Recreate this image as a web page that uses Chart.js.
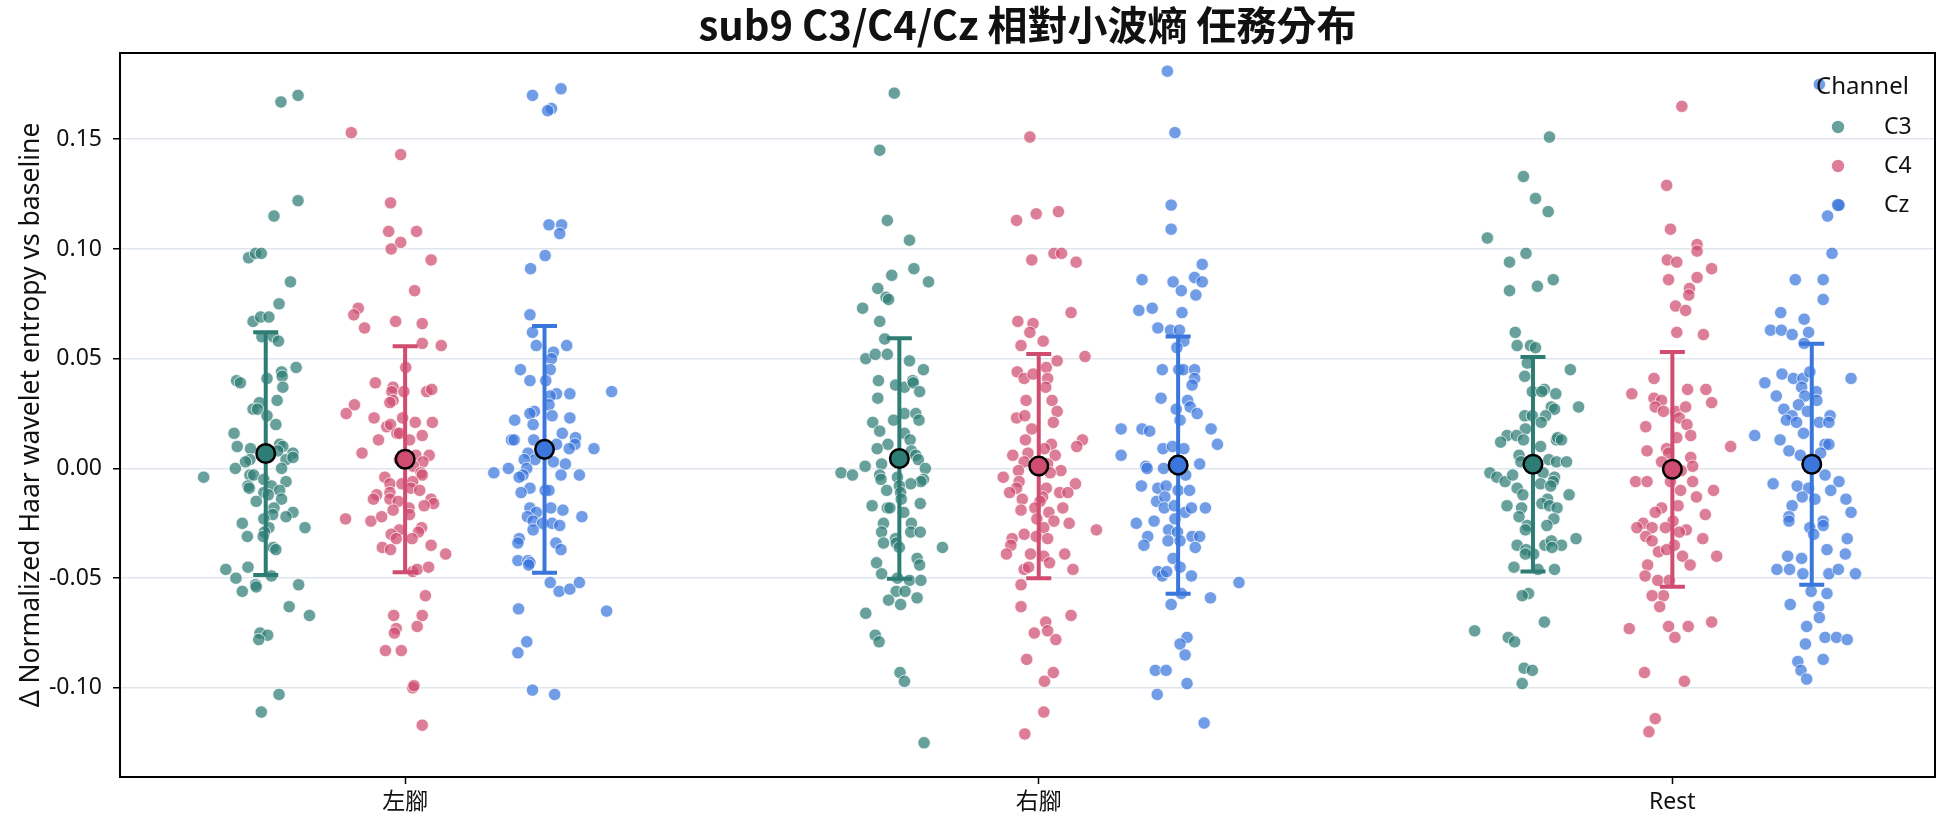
<!DOCTYPE html>
<html>
<head>
<meta charset="utf-8">
<script src="https://cdn.jsdelivr.net/npm/chart.js@4.4.1/dist/chart.umd.min.js"></script>
<style>
html,body{margin:0;padding:0;background:#ffffff;}
#wrap{width:1944px;height:827px;}
</style>
</head>
<body>
<div id="wrap"><canvas id="c" width="1944" height="827"></canvas></div>
<script>
// ---------- categories / channels ----------
const categories = ['左腳', '右腳', 'Rest'];
const channels = ['C3', 'C4', 'Cz'];
const yTicks = [-0.10, -0.05, 0.00, 0.05, 0.10, 0.15];

// ---------- C3 values ----------
const c3Left = [0.167,0.170,0.122,0.115,0.096,0.098,0.098,0.085,0.075,0.067,0.069,0.069,0.060,0.060,0.058,0.040,0.039,0.041,0.044,0.042,0.046,0.037,0.031,0.030,0.027,0.027,0.024,0.020,0.016,0.010,0.009,0.004,0.003,0.000,0.011,0.010,0.008,0.007,0.004,0.005,0.000,-0.004,-0.003,-0.003,-0.005,-0.006,-0.008,-0.008,-0.009,-0.010,-0.011,-0.015,-0.012,-0.014,-0.018,-0.020,-0.022,-0.021,-0.023,-0.025,-0.027,-0.027,-0.029,-0.031,-0.031,-0.036,-0.037,-0.046,-0.045,-0.050,-0.049,-0.053,-0.054,-0.056,-0.053,-0.063,-0.067,-0.075,-0.076,-0.078,-0.103,-0.111];
const c3LeftJitter = [0.024,0.051,0.051,0.013,-0.027,-0.016,-0.007,0.039,0.021,-0.020,-0.008,0.005,-0.006,0.012,0.020,-0.046,-0.040,0.002,0.025,0.026,0.048,0.027,0.018,-0.010,-0.020,-0.013,0.002,0.016,-0.050,-0.045,-0.024,-0.025,-0.032,-0.048,0.022,0.027,0.019,0.043,0.032,0.043,0.025,-0.098,-0.025,-0.019,-0.003,0.032,0.009,-0.028,-0.026,0.022,-0.003,-0.015,0.004,0.025,0.013,0.043,0.032,0.011,-0.003,-0.037,0.062,0.005,-0.002,-0.029,-0.004,0.012,0.016,-0.063,-0.028,-0.047,0.009,-0.016,-0.015,-0.037,0.052,0.037,0.069,-0.009,0.003,-0.011,0.021,-0.007];
const c3Right = [0.171,0.145,0.113,0.104,0.091,0.088,0.085,0.082,0.078,0.077,0.073,0.067,0.059,0.050,0.052,0.052,0.049,0.045,0.040,0.038,0.037,0.040,0.039,0.035,0.032,0.025,0.025,0.022,0.021,0.022,0.017,0.016,0.013,0.011,0.009,0.008,0.006,0.004,0.001,-0.002,-0.003,0.002,0.000,-0.003,-0.005,-0.004,-0.005,-0.006,-0.007,-0.008,-0.010,-0.011,-0.014,-0.017,-0.016,-0.018,-0.018,-0.020,-0.025,-0.025,-0.029,-0.029,-0.029,-0.032,-0.034,-0.034,-0.036,-0.036,-0.043,-0.041,-0.044,-0.048,-0.050,-0.051,-0.051,-0.056,-0.056,-0.060,-0.062,-0.059,-0.066,-0.076,-0.079,-0.093,-0.097,-0.125];
const c3RightJitter = [-0.008,-0.031,-0.019,0.016,0.023,-0.012,0.046,-0.034,-0.021,-0.017,-0.058,-0.031,-0.023,-0.053,-0.038,-0.019,0.016,0.038,-0.033,-0.006,0.008,0.021,0.022,0.032,-0.034,0.008,0.026,0.031,-0.042,-0.009,-0.031,0.008,0.017,-0.018,-0.035,0.019,0.026,0.030,-0.054,-0.092,-0.074,-0.028,0.041,-0.031,-0.029,-0.003,0.038,0.034,0.018,0.000,-0.020,0.002,0.003,-0.043,0.033,-0.019,-0.015,0.007,-0.025,0.019,0.018,0.033,-0.028,-0.006,-0.025,-0.005,0.000,0.068,-0.036,0.028,0.032,-0.028,-0.003,0.016,0.034,-0.005,0.009,-0.017,0.002,0.028,-0.053,-0.038,-0.032,0.001,0.008,0.039];
const c3Rest = [0.151,0.133,0.123,0.117,0.105,0.098,0.094,0.083,0.086,0.081,0.062,0.056,0.056,0.055,0.048,0.042,0.045,0.035,0.036,0.034,0.035,0.028,0.027,0.028,0.024,0.024,0.024,0.021,0.018,0.015,0.012,0.015,0.013,0.013,0.014,0.013,0.010,0.006,0.003,0.004,0.003,0.003,-0.002,-0.004,-0.006,-0.003,-0.002,-0.004,-0.006,-0.007,-0.008,-0.009,-0.012,-0.012,-0.014,-0.016,-0.017,-0.018,-0.017,-0.018,-0.022,-0.023,-0.026,-0.026,-0.028,-0.035,-0.035,-0.033,-0.035,-0.032,-0.037,-0.039,-0.036,-0.039,-0.045,-0.046,-0.046,-0.057,-0.058,-0.070,-0.074,-0.077,-0.079,-0.091,-0.092,-0.098];
const c3RestJitter = [0.026,-0.015,0.004,0.024,-0.072,-0.011,-0.037,0.007,0.032,-0.037,-0.028,-0.025,-0.004,0.004,-0.009,-0.013,0.059,-0.001,0.018,0.036,0.014,0.029,0.034,0.072,-0.013,-0.001,0.020,0.013,-0.012,-0.041,-0.051,-0.026,-0.015,0.037,0.039,0.045,0.012,-0.022,-0.019,0.025,0.037,0.053,-0.068,-0.057,-0.044,-0.032,0.016,0.034,0.032,0.012,0.028,-0.025,-0.016,0.057,0.023,0.014,-0.041,-0.018,0.026,0.038,-0.022,0.033,-0.009,0.022,-0.012,-0.025,0.019,0.029,0.045,0.068,-0.011,0.001,0.030,-0.012,-0.030,0.034,0.008,-0.007,-0.017,0.018,-0.092,-0.039,-0.029,-0.014,-0.001,-0.017];

// ---------- C4 values ----------
const c4Left = [0.153,0.143,0.121,0.108,0.108,0.103,0.100,0.095,0.081,0.073,0.070,0.064,0.067,0.066,0.057,0.056,0.046,0.039,0.037,0.035,0.035,0.035,0.036,0.031,0.030,0.029,0.025,0.023,0.023,0.021,0.021,0.019,0.020,0.016,0.016,0.013,0.015,0.013,0.007,0.004,0.006,0.006,0.003,0.001,-0.002,-0.003,-0.004,-0.007,-0.007,-0.006,-0.009,-0.010,-0.012,-0.014,-0.011,-0.014,-0.015,-0.014,-0.016,-0.017,-0.019,-0.018,-0.021,-0.023,-0.024,-0.022,-0.027,-0.029,-0.028,-0.030,-0.032,-0.032,-0.035,-0.036,-0.037,-0.039,-0.047,-0.046,-0.045,-0.058,-0.067,-0.067,-0.073,-0.075,-0.072,-0.083,-0.083,-0.100,-0.099,-0.117];
const c4LeftJitter = [-0.085,-0.007,-0.023,-0.026,0.018,-0.007,-0.022,0.041,0.015,-0.074,-0.081,-0.064,-0.015,0.027,0.027,0.057,0.001,-0.047,-0.019,-0.021,-0.002,0.034,0.042,-0.019,-0.024,-0.080,-0.093,-0.049,-0.004,0.016,0.043,-0.029,-0.023,-0.013,-0.009,0.007,0.027,-0.042,-0.068,-0.009,0.017,0.038,0.028,0.013,0.025,0.027,-0.032,-0.024,-0.005,0.012,0.009,0.023,-0.045,-0.050,-0.024,-0.024,-0.011,0.041,0.045,0.030,-0.019,0.006,0.007,-0.094,-0.054,-0.037,0.026,0.021,-0.009,-0.022,-0.014,0.011,0.041,-0.036,-0.023,0.064,0.012,0.019,0.037,0.032,0.027,-0.018,-0.014,-0.017,0.019,-0.031,-0.006,0.012,0.014,0.027];
const c4Right = [0.151,0.113,0.116,0.117,0.095,0.098,0.098,0.094,0.071,0.067,0.066,0.062,0.058,0.056,0.051,0.049,0.046,0.044,0.041,0.043,0.041,0.037,0.031,0.031,0.026,0.023,0.024,0.021,0.018,0.013,0.010,0.013,0.011,0.006,0.007,0.009,0.006,0.003,0.002,-0.001,-0.002,-0.004,-0.001,-0.006,-0.009,-0.011,-0.007,-0.009,-0.011,-0.011,-0.014,-0.013,-0.015,-0.018,-0.018,-0.019,-0.020,-0.024,-0.023,-0.025,-0.028,-0.027,-0.030,-0.031,-0.032,-0.032,-0.035,-0.039,-0.039,-0.040,-0.039,-0.043,-0.046,-0.045,-0.046,-0.053,-0.063,-0.067,-0.070,-0.075,-0.074,-0.078,-0.087,-0.093,-0.097,-0.111,-0.121];
const c4RightJitter = [-0.014,-0.035,-0.004,0.031,-0.011,0.024,0.036,0.059,0.051,-0.033,-0.009,-0.014,0.007,-0.028,0.073,0.029,0.012,-0.034,-0.023,-0.009,0.014,0.011,-0.020,0.021,0.029,-0.035,-0.022,0.023,-0.011,0.069,0.060,-0.021,0.020,-0.041,-0.017,0.009,0.026,-0.023,0.014,0.035,0.018,-0.056,-0.032,-0.031,-0.035,-0.046,0.058,0.012,0.033,0.046,-0.026,0.006,0.002,-0.006,0.038,-0.028,0.016,0.024,-0.003,0.048,0.091,0.008,-0.023,-0.004,0.014,-0.042,-0.044,-0.051,-0.013,0.008,0.041,0.017,-0.023,-0.016,0.054,-0.028,-0.028,0.051,0.011,-0.007,0.014,0.027,-0.019,0.023,0.009,0.008,-0.022];
const c4Rest = [0.165,0.129,0.109,0.102,0.099,0.095,0.094,0.091,0.086,0.087,0.082,0.079,0.074,0.072,0.062,0.061,0.041,0.034,0.036,0.036,0.030,0.032,0.031,0.028,0.026,0.026,0.028,0.023,0.020,0.019,0.015,0.014,0.010,0.008,0.009,0.007,0.005,0.003,0.001,-0.001,-0.006,-0.006,-0.006,-0.006,-0.010,-0.010,-0.013,-0.017,-0.018,-0.020,-0.021,-0.024,-0.025,-0.027,-0.027,-0.027,-0.028,-0.029,-0.031,-0.033,-0.032,-0.035,-0.038,-0.037,-0.040,-0.040,-0.044,-0.044,-0.049,-0.051,-0.051,-0.058,-0.058,-0.063,-0.073,-0.072,-0.072,-0.070,-0.077,-0.093,-0.097,-0.114,-0.120];
const c4RestJitter = [0.015,-0.009,-0.003,0.039,0.039,-0.008,0.007,0.062,-0.006,0.039,0.027,0.026,0.005,0.021,0.007,0.049,-0.029,-0.064,0.024,0.053,0.062,-0.029,-0.017,-0.027,-0.014,0.005,0.021,0.011,0.023,-0.042,0.029,0.007,0.092,-0.040,-0.009,-0.006,0.029,-0.017,0.032,0.014,-0.058,-0.040,-0.003,0.032,0.013,0.065,0.038,0.009,-0.017,-0.027,0.052,0.001,-0.046,-0.056,-0.032,-0.011,0.022,0.011,-0.042,-0.032,0.048,0.003,-0.022,-0.009,0.016,0.070,0.028,-0.039,-0.043,-0.023,-0.005,-0.014,-0.032,-0.020,-0.068,-0.006,0.025,0.062,0.004,-0.044,0.019,-0.027,-0.037];

// ---------- Cz values ----------
const czLeft = [0.173,0.170,0.164,0.163,0.111,0.111,0.107,0.097,0.091,0.070,0.062,0.056,0.053,0.056,0.050,0.045,0.045,0.040,0.040,0.034,0.034,0.033,0.029,0.035,0.026,0.025,0.024,0.023,0.022,0.020,0.016,0.013,0.013,0.013,0.014,0.011,0.011,0.009,0.009,0.007,0.004,0.004,0.003,0.002,0.000,-0.002,0.000,-0.003,-0.004,-0.003,-0.003,-0.009,-0.010,-0.010,-0.011,-0.018,-0.019,-0.018,-0.020,-0.022,-0.024,-0.025,-0.025,-0.026,-0.022,-0.028,-0.032,-0.034,-0.034,-0.037,-0.042,-0.042,-0.043,-0.044,-0.052,-0.056,-0.055,-0.052,-0.064,-0.065,-0.079,-0.084,-0.101,-0.103];
const czLeftJitter = [0.026,-0.019,0.011,0.005,0.007,0.027,0.024,0.001,-0.022,-0.023,-0.019,-0.013,0.014,0.035,0.011,-0.038,0.009,-0.023,0.002,0.019,0.040,0.009,0.007,0.106,-0.016,-0.023,0.012,0.040,-0.047,-0.018,0.028,-0.052,-0.048,-0.017,0.049,0.048,0.019,0.039,0.078,-0.026,-0.015,-0.032,0.014,0.033,-0.057,-0.080,-0.028,-0.034,-0.040,0.026,0.055,-0.023,0.001,0.007,-0.037,0.010,0.029,-0.023,-0.013,-0.027,-0.018,-0.003,0.012,0.024,0.059,-0.018,-0.040,-0.042,0.018,0.026,-0.042,-0.026,-0.023,-0.025,0.009,0.023,0.040,0.055,-0.041,0.098,-0.028,-0.042,-0.019,0.016];
const czRight = [0.181,0.153,0.120,0.109,0.093,0.086,0.085,0.087,0.085,0.081,0.079,0.073,0.072,0.071,0.064,0.063,0.063,0.058,0.055,0.045,0.045,0.045,0.045,0.041,0.038,0.032,0.031,0.028,0.025,0.027,0.022,0.018,0.018,0.017,0.018,0.011,0.006,0.009,0.010,0.009,0.001,0.000,0.000,0.002,-0.003,-0.008,-0.009,-0.008,-0.010,-0.010,-0.015,-0.013,-0.018,-0.017,-0.020,-0.018,-0.018,-0.025,-0.024,-0.023,-0.028,-0.029,-0.031,-0.035,-0.033,-0.033,-0.031,-0.031,-0.036,-0.041,-0.047,-0.049,-0.047,-0.045,-0.049,-0.052,-0.057,-0.062,-0.059,-0.077,-0.080,-0.085,-0.092,-0.092,-0.098,-0.103,-0.116];
const czRightJitter = [-0.017,-0.005,-0.011,-0.011,0.038,-0.057,-0.008,0.026,0.038,0.005,0.028,-0.041,-0.062,0.006,-0.032,-0.012,0.002,0.009,-0.002,-0.025,0.001,0.008,0.026,0.026,0.022,-0.027,0.015,0.019,0.030,-0.003,0.003,-0.090,-0.057,-0.045,0.052,0.062,-0.090,-0.024,-0.009,0.009,-0.051,-0.049,-0.023,0.034,0.012,-0.058,-0.032,-0.019,0.000,0.018,-0.034,-0.021,-0.022,-0.006,0.011,0.021,0.043,-0.066,-0.038,-0.005,-0.015,-0.001,-0.048,-0.054,-0.016,0.003,0.022,0.034,0.027,-0.008,-0.032,-0.025,-0.018,0.003,0.021,0.096,0.005,-0.011,0.051,0.014,0.003,0.011,-0.036,-0.019,0.014,-0.033,0.041];
const czRest = [0.175,0.120,0.115,0.098,0.086,0.086,0.077,0.071,0.068,0.063,0.063,0.061,0.062,0.057,0.039,0.043,0.041,0.041,0.044,0.041,0.037,0.035,0.033,0.033,0.029,0.031,0.027,0.026,0.024,0.022,0.021,0.021,0.024,0.021,0.016,0.015,0.013,0.011,0.011,0.008,0.006,0.007,-0.003,-0.007,-0.006,-0.008,-0.009,-0.010,-0.013,-0.014,-0.014,-0.017,-0.020,-0.022,-0.024,-0.024,-0.026,-0.027,-0.030,-0.032,-0.037,-0.040,-0.041,-0.039,-0.046,-0.046,-0.048,-0.048,-0.046,-0.048,-0.056,-0.057,-0.062,-0.063,-0.068,-0.072,-0.077,-0.077,-0.078,-0.080,-0.087,-0.088,-0.092,-0.096];
const czRestJitter = [0.012,0.043,0.025,0.032,-0.026,0.018,0.018,-0.049,-0.012,-0.065,-0.048,-0.031,-0.005,-0.012,-0.074,-0.047,-0.029,-0.014,-0.003,0.062,-0.016,0.007,-0.011,-0.056,-0.021,0.008,-0.044,-0.007,-0.031,-0.040,-0.024,0.012,0.029,0.027,-0.013,-0.090,-0.050,0.021,0.027,-0.036,-0.018,0.014,0.021,-0.061,0.043,-0.023,-0.005,0.030,-0.015,0.005,0.054,-0.031,0.062,-0.036,-0.036,0.018,0.018,-0.003,0.003,0.056,0.024,-0.038,-0.016,0.053,-0.055,-0.035,-0.014,0.027,0.042,0.069,-0.001,0.024,-0.034,0.011,0.012,-0.008,0.021,0.039,0.056,-0.010,0.018,-0.022,-0.017,-0.008];

// ---------- means and standard deviations (per category) ----------
const c3Mean = [0.0068, 0.0045, 0.0019];
const c3Sd   = [0.0553, 0.0548, 0.0489];
const c4Mean = [0.0042, 0.0011, -0.0004];
const c4Sd   = [0.0515, 0.0511, 0.0535];
const czMean = [0.0087, 0.0015, 0.0019];
const czSd   = [0.0562, 0.0586, 0.0549];

// ---------- styling ----------
const baseColors = { C3: [46,125,116], C4: [208,76,112], Cz: [58,118,220] };
const dodge = { C3: -0.22, C4: 0.0, Cz: 0.22 };
const rgba = (c, a) => `rgba(${c[0]},${c[1]},${c[2]},${a})`;
const TEXT = '#111111';
const FONT = "'Noto Sans', 'Noto Sans CJK TC', sans-serif";

const groups = {
  C3: [[c3Left, c3LeftJitter], [c3Right, c3RightJitter], [c3Rest, c3RestJitter]],
  C4: [[c4Left, c4LeftJitter], [c4Right, c4RightJitter], [c4Rest, c4RestJitter]],
  Cz: [[czLeft, czLeftJitter], [czRight, czRightJitter], [czRest, czRestJitter]]
};
const stats = {
  C3: [c3Mean, c3Sd], C4: [c4Mean, c4Sd], Cz: [czMean, czSd]
};

const datasets = channels.map(ch => {
  const pts = [];
  groups[ch].forEach(([vals, jit], ci) => {
    vals.forEach((v, i) => pts.push({ x: ci + dodge[ch] + (jit[i] || 0), y: v }));
  });
  return {
    label: ch,
    data: pts,
    backgroundColor: rgba(baseColors[ch], 0.72),
    borderColor: 'rgba(255,255,255,0.9)',
    borderWidth: 0.8,
    pointRadius: 6.2,
    pointHoverRadius: 6.2
  };
});

// error bars + mean markers, drawn through the chart scales
const meanPlugin = {
  id: 'meanErr',
  afterDatasetsDraw(chart) {
    const ctx = chart.ctx, xs = chart.scales.x, ys = chart.scales.y;
    ctx.save();
    channels.forEach(ch => {
      const [m, s] = stats[ch];
      categories.forEach((cat, ci) => {
        const px = xs.getPixelForValue(ci + dodge[ch]);
        const pTop = ys.getPixelForValue(m[ci] + s[ci]);
        const pBot = ys.getPixelForValue(m[ci] - s[ci]);
        ctx.strokeStyle = rgba(baseColors[ch], 1);
        ctx.lineWidth = 4;
        ctx.lineCap = 'butt';
        ctx.beginPath();
        ctx.moveTo(px, pTop); ctx.lineTo(px, pBot);
        ctx.moveTo(px - 12.5, pTop); ctx.lineTo(px + 12.5, pTop);
        ctx.moveTo(px - 12.5, pBot); ctx.lineTo(px + 12.5, pBot);
        ctx.stroke();
      });
    });
    channels.forEach(ch => {
      const [m] = stats[ch];
      categories.forEach((cat, ci) => {
        const px = xs.getPixelForValue(ci + dodge[ch]);
        const py = ys.getPixelForValue(m[ci]);
        ctx.beginPath();
        ctx.arc(px, py, 9.3, 0, Math.PI * 2);
        ctx.fillStyle = rgba(baseColors[ch], 1);
        ctx.fill();
        ctx.lineWidth = 2.5;
        ctx.strokeStyle = '#000';
        ctx.stroke();
      });
    });
    ctx.restore();
  }
};

// frame + legend
const framePlugin = {
  id: 'frameLegend',
  afterDraw(chart) {
    const ctx = chart.ctx, ca = chart.chartArea;
    ctx.save();
    ctx.strokeStyle = '#000';
    ctx.lineWidth = 2;
    ctx.strokeRect(ca.left, ca.top, ca.right - ca.left, ca.bottom - ca.top);
    // legend
    ctx.textBaseline = 'middle';
    ctx.textAlign = 'left';
    ctx.fillStyle = TEXT;
    ctx.font = `24px ${FONT}`;
    ctx.fillText('Channel', ca.right - 119, ca.top + 34);
    ctx.font = `23px ${FONT}`;
    channels.forEach((ch, i) => {
      const y = ca.top + 74 + i * 39;
      ctx.beginPath();
      ctx.arc(ca.right - 97, y, 6.2, 0, Math.PI * 2);
      ctx.fillStyle = rgba(baseColors[ch], 0.72);
      ctx.fill();
      ctx.fillStyle = TEXT;
      ctx.fillText(ch, ca.right - 51, y);
    });
    ctx.restore();
  }
};

new Chart(document.getElementById('c'), {
  type: 'scatter',
  data: { datasets },
  options: {
    responsive: false,
    animation: false,
    devicePixelRatio: 1,
    events: [],
    layout: { padding: { left: 0, right: 9, top: 0, bottom: 0 } },
    plugins: {
      legend: { display: false },
      tooltip: { enabled: false },
      title: {
        display: true,
        fullSize: false,
        text: 'sub9 C3/C4/Cz 相對小波熵 任務分布',
        color: TEXT,
        font: { family: "'Noto Sans CJK TC', sans-serif", size: 40, weight: 'bold' },
        padding: { top: 1, bottom: 4 }
      }
    },
    scales: {
      x: {
        type: 'linear',
        min: -0.45,
        max: 2.4145,
        afterBuildTicks: (s) => { s.ticks = categories.map((c, i) => ({ value: i })); },
        afterFit: (s) => { s.height = 50; },
        ticks: {
          callback: (v) => categories[Math.round(v)],
          color: TEXT,
          font: { family: FONT, size: 23 },
          padding: 5,
          maxRotation: 0
        },
        grid: { drawOnChartArea: false, drawTicks: true, tickLength: 7, tickColor: '#000', tickWidth: 1.5 },
        border: { display: false }
      },
      y: {
        min: -0.1406,
        max: 0.1893,
        afterBuildTicks: (s) => { s.ticks = yTicks.map(v => ({ value: v })); },
        afterFit: (s) => { s.width = 120; },
        ticks: {
          callback: (v) => Number(v).toFixed(2),
          color: TEXT,
          font: { family: FONT, size: 23 },
          padding: 11
        },
        grid: { color: '#dfe6ee', lineWidth: 1.5, drawTicks: true, tickLength: 7, tickColor: '#000', tickWidth: 1.5 },
        border: { display: false },
        title: {
          display: true,
          text: 'Δ Normalized Haar wavelet entropy vs baseline',
          color: TEXT,
          font: { family: FONT, size: 26.5 },
          padding: { top: 16, bottom: 0 }
        }
      }
    }
  },
  plugins: [meanPlugin, framePlugin]
});
</script>
</body>
</html>
